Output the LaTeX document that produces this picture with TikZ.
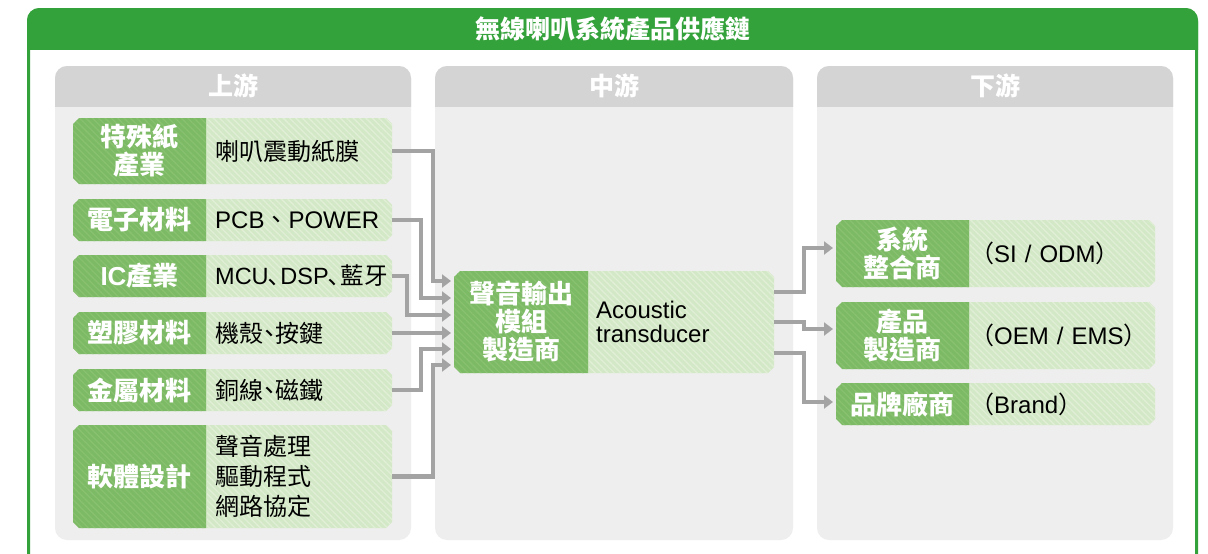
\documentclass[tikz,border=0pt]{standalone}
\usepackage{fontspec}
\setmainfont{Liberation Sans}
\newfontfamily\cjk{Noto Sans CJK TC}
\newfontfamily\cjkhalf[RawFeature=+halt]{Noto Sans CJK TC}
\usetikzlibrary{arrows.meta,patterns.meta}
\definecolor{framegreen}{HTML}{34A23A}
\definecolor{catgreen}{HTML}{7DBA65}
\definecolor{catstripe}{HTML}{88C170}
\definecolor{descgreen}{HTML}{D3E8C6}
\definecolor{descstripe}{HTML}{E0EFD6}
\definecolor{panelhead}{HTML}{D4D4D4}
\definecolor{panelbody}{HTML}{EEEEEE}
\definecolor{arrowgray}{HTML}{A3A3A3}
\newcommand\dun{{\cjkhalf 、}}
\newcommand\hdun{{\cjk ､}}
\tikzset{
  catfill/.style={fill=catgreen, postaction={pattern={Lines[angle=-45,distance=4.5pt,line width=1.3pt]}, pattern color=catstripe}},
  descfill/.style={fill=descgreen, postaction={pattern={Lines[angle=-45,distance=4.5pt,line width=1.3pt]}, pattern color=descstripe}},
  cat/.style={text=white, font=\cjk\bfseries\fontsize{26}{28}\selectfont, align=center, inner sep=0pt, minimum width=133pt},
  desc/.style={text=black, font=\fontsize{24}{30}\selectfont, align=left, anchor=west, text width=168pt, inner xsep=9pt, inner ysep=0pt},
  head/.style={text=white, font=\cjk\bfseries\fontsize{25}{28}\selectfont, inner sep=0pt},
  titletext/.style={text=white, font=\cjk\bfseries\fontsize{25}{28}\selectfont, inner sep=0pt},
  conn/.style={draw=arrowgray, line width=4.5pt, line join=miter, -{Triangle[length=9pt,width=13pt]}, shorten >=3pt}
}
\newcommand\leftpart[4]{\path[catfill] (#3,#2) -- (#1+6,#2) -- (#1,#2+6) -- (#1,#4-6) -- (#1+6,#4) -- (#3,#4) -- cycle;}
\newcommand\rightpart[4]{\path[descfill] (#1,#2) -- (#3-6,#2) -- (#3,#2+6) -- (#3,#4-6) -- (#3-6,#4) -- (#1,#4) -- cycle;}
\begin{document}
\begin{tikzpicture}[x=1pt,y=-1pt]
\useasboundingbox (0,0) rectangle (1208,554);
\clip (0,0) rectangle (1208,554);
% outer frame
\draw[framegreen, line width=3pt, fill=white, rounded corners=12pt] (28.5,9.5) rectangle (1196.5,640);
\begin{scope}
  \clip (20,0) rectangle (1205,49);
  \fill[framegreen, rounded corners=12pt] (27,8) rectangle (1198,640);
\end{scope}
\node[titletext] (title) at (613,29) {無線喇叭系統產品供應鏈};
% panels
\fill[panelbody, rounded corners=12pt] (55,66) rectangle (411,540);
\begin{scope}\clip (55,66) rectangle (411,106);
  \fill[panelhead, rounded corners=12pt] (55,66) rectangle (411,540);\end{scope}
\node[head] (hu) at (233,86) {上游};
\fill[panelbody, rounded corners=12pt] (435,66) rectangle (793,540);
\begin{scope}\clip (435,66) rectangle (793,106);
  \fill[panelhead, rounded corners=12pt] (435,66) rectangle (793,540);\end{scope}
\node[head] (hm) at (614,86) {中游};
\fill[panelbody, rounded corners=12pt] (817,66) rectangle (1173,540);
\begin{scope}\clip (817,66) rectangle (1173,106);
  \fill[panelhead, rounded corners=12pt] (817,66) rectangle (1173,540);\end{scope}
\node[head] (hd) at (995,86) {下游};
% upstream boxes
\rightpart{206}{118}{392}{184}\leftpart{73}{118}{206}{184}
\node[cat, minimum height=66pt] (c1) at (139.5,151) {特殊紙\\產業};
\node[desc, minimum height=66pt] (d1) at (206,151) {{\cjk 喇叭震動紙膜}};
\rightpart{206}{199}{392}{241}\leftpart{73}{199}{206}{241}
\node[cat, minimum height=42pt] (c2) at (139.5,220) {電子材料};
\node[desc, minimum height=42pt] (d2) at (206,220) {PCB{\cjk 、}POWER};
\rightpart{206}{255}{392}{297}\leftpart{73}{255}{206}{297}
\node[cat, minimum height=42pt] (c3) at (139.5,276) {{\rmfamily IC}產業};
\node[desc, minimum height=42pt, font=\fontsize{23.5}{28}\selectfont] (d3) at (206,276) {MCU\hdun DSP\hdun{\cjk 藍牙}};
\rightpart{206}{312}{392}{354}\leftpart{73}{312}{206}{354}
\node[cat, minimum height=42pt] (c4) at (139.5,333) {塑膠材料};
\node[desc, minimum height=42pt] (d4) at (206,333) {{\cjk 機殼}\dun{\cjk 按鍵}};
\rightpart{206}{369}{392}{411}\leftpart{73}{369}{206}{411}
\node[cat, minimum height=42pt] (c5) at (139.5,390) {金屬材料};
\node[desc, minimum height=42pt] (d5) at (206,390) {{\cjk 銅線}\dun{\cjk 磁鐵}};
\rightpart{206}{425}{392}{528}\leftpart{73}{425}{206}{528}
\node[cat, minimum height=103pt] (c6) at (139.5,476.5) {軟體設計};
\node[desc, minimum height=103pt] (d6) at (206,476.5) {\cjk 聲音處理\\驅動程式\\網路協定};
% midstream box
\rightpart{588}{271}{774}{373}\leftpart{454}{271}{588}{373}
\node[cat, minimum width=134pt, minimum height=102pt] (mc) at (521,322) {聲音輸出\\模組\\製造商};
\node[desc, text width=170pt, inner xsep=8pt, minimum height=102pt, font=\fontsize{24}{24}\selectfont] (md) at (588,322) {Acoustic\\transducer};
% downstream boxes
\rightpart{969}{220}{1155}{287}\leftpart{836}{220}{969}{287}
\node[cat, minimum height=67pt] (rc1) at (902.5,253.5) {系統\\整合商};
\node[desc, text width=184pt, inner xsep=1pt, minimum height=67pt] (rd1) at (969,253.5) {{\cjk （}SI / ODM{\cjk ）}};
\rightpart{969}{302}{1155}{369}\leftpart{836}{302}{969}{369}
\node[cat, minimum height=67pt] (rc2) at (902.5,335.5) {產品\\製造商};
\node[desc, text width=184pt, inner xsep=1pt, minimum height=67pt] (rd2) at (969,335.5) {{\cjk （}OEM / EMS{\cjk ）}};
\rightpart{969}{383}{1155}{425}\leftpart{836}{383}{969}{425}
\node[cat, minimum height=42pt] (rc3) at (902.5,404) {品牌廠商};
\node[desc, text width=184pt, inner xsep=1pt, minimum height=42pt] (rd3) at (969,404) {{\cjk （}Brand{\cjk ）}};
% connector end points
\coordinate (i1) at (454,281);
\coordinate (i2) at (454,298);
\coordinate (i3) at (454,315);
\coordinate (i4) at (454,333);
\coordinate (i5) at (454,349);
\coordinate (i6) at (454,365);
\coordinate (o1) at (774,292);
\coordinate (o2) at (774,322);
\coordinate (o3) at (774,353);
\coordinate (t1) at (836,248);
\coordinate (t2) at (836,329);
\coordinate (t3) at (836,402);
% connectors
\draw[conn] (d1.east) -| (433,281) -- (i1);
\draw[conn] (d2.east) -| (421,298) -- (i2);
\draw[conn] (d3.east) -| (407,315) -- (i3);
\draw[conn] (d4.east) -- (i4);
\draw[conn] (d5.east) -| (421,349) -- (i5);
\draw[conn] (d6.east) -| (433,365) -- (i6);
\draw[conn] (o1) -| (804,248) -- (t1);
\draw[conn] (o2) -| (804,329) -- (t2);
\draw[conn] (o3) -| (804,402) -- (t3);
\end{tikzpicture}
\end{document}
